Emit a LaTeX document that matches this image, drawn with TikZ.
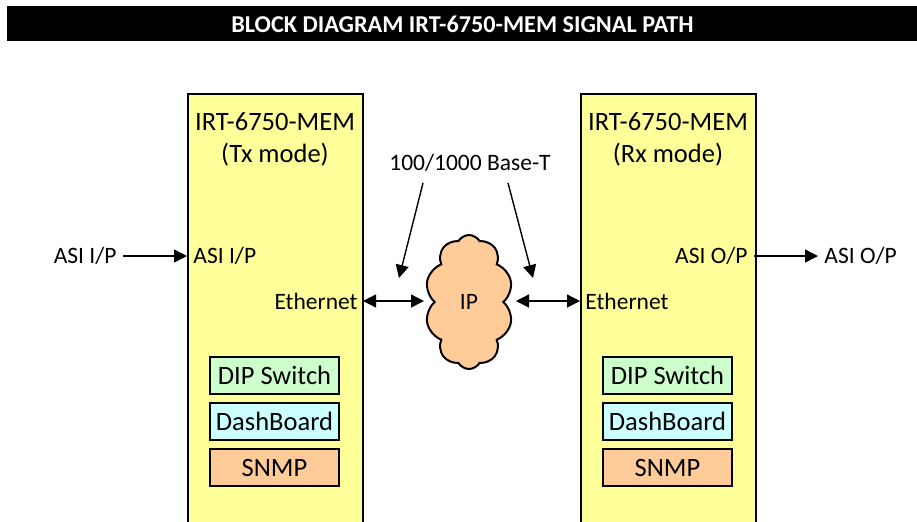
\documentclass[tikz,border=0pt]{standalone}
\usepackage{fontspec}
\setmainfont{Carlito}
\usepackage{tikz}
\usetikzlibrary{shapes.symbols, arrows, arrows.meta}
\definecolor{unityellow}{HTML}{FFFF99}
\definecolor{dipgreen}{HTML}{CCFFCC}
\definecolor{dashcyan}{HTML}{CCFFFF}
\definecolor{snmppeach}{HTML}{FFCC99}
\tikzstyle{unit} = [rectangle, minimum width=87.5pt, minimum height=220pt, draw=black, line width=1pt, fill=unityellow, anchor=north west, inner sep=0pt]
\tikzstyle{subbox} = [rectangle, minimum width=64.5pt, minimum height=18.5pt, draw=black, line width=1pt, inner sep=0pt, font=\fontsize{13.25}{15}\selectfont]
\tikzstyle{bigtext} = [font=\fontsize{13.25}{16}\selectfont, align=center, inner sep=0pt]
\tikzstyle{smalltext} = [font=\fontsize{11.75}{14}\selectfont, inner sep=0pt]
\tikzstyle{arrow} = [line width=0.7pt,-{Triangle[length=6.5pt,width=6.5pt]}]
\tikzstyle{dblarrow} = [line width=0.7pt,{Triangle[length=6.5pt,width=6.5pt]}-{Triangle[length=6.5pt,width=6.5pt]}]

\begin{document}
\begin{tikzpicture}[x=0.5pt, y=-0.5pt]
	\useasboundingbox (0,0) rectangle (917,521);
	\clip (0,0) rectangle (917,521);
	% title bar
	\node (bar) [rectangle, fill=black, minimum width=455pt, minimum height=17.5pt, anchor=north west, inner sep=0pt] at (7,6) {};
	\node (title) [text=white, font=\fontsize{12.1}{14}\bfseries] at (bar.center) {BLOCK DIAGRAM IRT-6750-MEM SIGNAL PATH};

	% transmitter
	\node (tx) [unit] at (187,93) {};
	\node (txname) [bigtext] at (275,139) {IRT-6750-MEM\\(Tx mode)};
	\node (txin) [smalltext, anchor=west] at (193,256) {ASI I/P};
	\node (txeth) [smalltext, anchor=east] at (358,301) {Ethernet};
	\node (txdip) [subbox, fill=dipgreen] at (274.5,375.5) {DIP Switch};
	\node (txdash) [subbox, fill=dashcyan] at (274.5,421.5) {DashBoard};
	\node (txsnmp) [subbox, fill=snmppeach] at (274.5,467.5) {SNMP};

	% receiver
	\node (rx) [unit] at (580,93) {};
	\node (rxname) [bigtext] at (668,139) {IRT-6750-MEM\\(Rx mode)};
	\node (rxout) [smalltext, anchor=east] at (748,256) {ASI O/P};
	\node (rxeth) [smalltext, anchor=west] at (585,301) {Ethernet};
	\node (rxdip) [subbox, fill=dipgreen] at (667.5,375.5) {DIP Switch};
	\node (rxdash) [subbox, fill=dashcyan] at (667.5,421.5) {DashBoard};
	\node (rxsnmp) [subbox, fill=snmppeach] at (667.5,467.5) {SNMP};

	% network
	\node (ip) [cloud, cloud puffs=10, cloud puff arc=120, aspect=0.65, minimum width=44pt, minimum height=67pt, inner sep=0pt, draw=black, line width=1pt, fill=snmppeach, font=\fontsize{11.75}{14}\selectfont] at (469,302) {IP};
	\node (base) [smalltext] at (470,163) {100/1000 Base-T};
	\node (asiin) [smalltext, anchor=east] at (117,256) {ASI I/P};
	\node (asiout) [smalltext, anchor=west] at (824,256) {ASI O/P};
	\coordinate (inl) at (123,256);
	\coordinate (txl) at (187,256);
	\coordinate (rxr) at (754,256);
	\coordinate (outr) at (818,256);
	\coordinate (ethl) at (363,301);
	\coordinate (ipl) at (424,301);
	\coordinate (ipr) at (516,301);
	\coordinate (ethr) at (580,301);
	\coordinate (basel) at (423,183);
	\coordinate (baser) at (508,183);
	\coordinate (tipl) at (399,278);
	\coordinate (tipr) at (533,278);

	\draw [arrow] (inl) -- (txl);
	\draw [arrow] (rxr) -- (outr);
	\draw [dblarrow] (ethl) -- (ipl);
	\draw [dblarrow] (ipr) -- (ethr);
	\draw [arrow] (basel) -- (tipl);
	\draw [arrow] (baser) -- (tipr);
\end{tikzpicture}
\end{document}
